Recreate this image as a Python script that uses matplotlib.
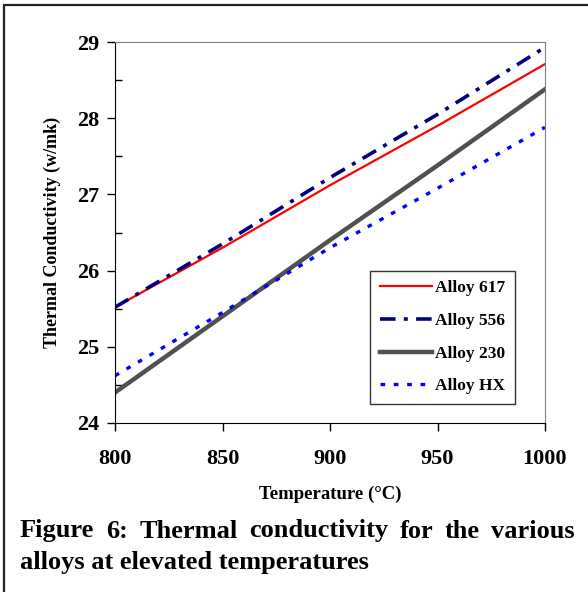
import numpy as np
import matplotlib
matplotlib.use("Agg")
import matplotlib.pyplot as plt
from matplotlib.patches import Rectangle
from matplotlib.ticker import MultipleLocator

plt.rcParams['font.family'] = ['Liberation Serif', 'DejaVu Serif']
plt.rcParams['font.weight'] = 'bold'

# data
temperature = [800, 850, 900, 950, 1000]
alloy_617 = [25.52, 26.30, 27.12, 27.90, 28.71]
alloy_556 = [25.52, 26.35, 27.22, 28.05, 28.93]
alloy_230 = [24.40, 25.40, 26.40, 27.38, 28.38]
alloy_hx = [24.62, 25.45, 26.30, 27.08, 27.88]

caption_lines = ["Figure 6:  Thermal conductivity for the various",
                 "alloys at elevated temperatures"]

W, H = 588, 592
fig = plt.figure(figsize=(W / 100, H / 100), dpi=100)

# outer frame of the figure (runs off the right and bottom edge)
fig.patches.append(Rectangle((4 / W, -0.05), 1.2, 1 - 5 / H + 0.05,
                             transform=fig.transFigure, fill=False,
                             edgecolor='#222222', lw=1.6))

ax = fig.add_axes([115 / W, 1 - 423 / H, 430 / W, 381 / H])

ax.plot(temperature, alloy_617, color='#ff0000', lw=1.6, label='Alloy 617')
ax.plot(temperature, alloy_556, color='#000080', lw=2.6,
        dashes=(4.3, 2.3, 1.1, 2.3), label='Alloy 556')
ax.plot(temperature, alloy_230, color='#505050', lw=3.2, label='Alloy 230')
ax.plot(temperature, alloy_hx, color='#0000ff', lw=2.4,
        dashes=(1.4, 2.6), label='Alloy HX')

ax.set_xlim(800, 1000)
ax.set_ylim(24, 29)
ax.xaxis.set_major_locator(MultipleLocator(50))
ax.yaxis.set_major_locator(MultipleLocator(1))
ax.yaxis.set_minor_locator(MultipleLocator(0.5))

ax.tick_params(axis='x', direction='out', length=6, width=1, labelsize=16,
               pad=13, top=False)
ax.tick_params(axis='y', which='major', direction='out', length=6, width=1,
               labelsize=16, pad=5, right=False)
ax.tick_params(axis='y', which='minor', direction='in', length=5, width=1,
               right=False)
for lab in ax.get_xticklabels() + ax.get_yticklabels():
    lab.set_fontweight('bold')

for side in ['top', 'right']:
    ax.spines[side].set_color('#808080')
for side in ['left', 'bottom']:
    ax.spines[side].set_color('black')

ax.set_xlabel('Temperature (°C)', fontsize=13.5, fontweight='bold', labelpad=12)
ax.set_ylabel('Thermal Conductivity (w/mk)', fontsize=13, fontweight='bold',
              labelpad=12)

leg = ax.legend(loc='lower right', bbox_to_anchor=(0.93, 0.05), frameon=True,
                fancybox=False, edgecolor='black', fontsize=12.5,
                handlelength=3.0, handletextpad=0.2, borderpad=0.55,
                labelspacing=0.95, borderaxespad=0)
leg.get_frame().set_linewidth(1)
for t in leg.get_texts():
    t.set_fontweight('bold')

# caption: first line justified between left and right margins
fig.canvas.draw()
renderer = fig.canvas.get_renderer()
x0, x1 = 20 / W, 575 / W
words = caption_lines[0].replace(':  ', ': ').split(' ')
texts = [fig.text(0, 1 - 531 / H, w, fontsize=19, fontweight='bold',
                  va='center', ha='left') for w in words]
widths = [t.get_window_extent(renderer).width / W for t in texts]
gap = (x1 - x0 - sum(widths)) / (len(words) - 1)
x = x0
for t, w in zip(texts, widths):
    t.set_x(x)
    x += w + gap
fig.text(x0, 1 - 563 / H, caption_lines[1], fontsize=19, fontweight='bold',
         va='center', ha='left')

fig.savefig('out.png', dpi=100)
